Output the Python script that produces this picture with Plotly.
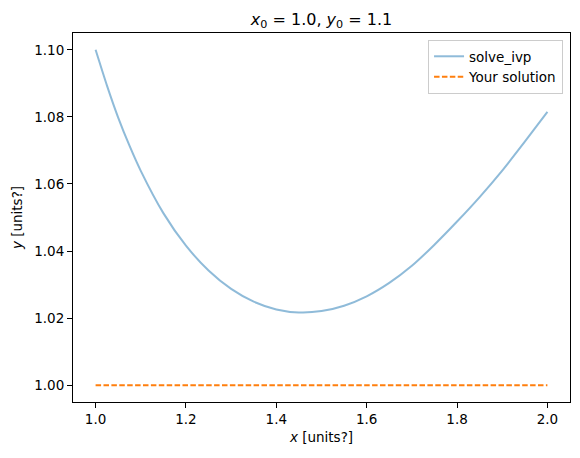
import plotly.graph_objects as go

# solve_ivp curve
x_ivp = [1.00, 1.025, 1.05, 1.075, 1.10, 1.15, 1.20, 1.25, 1.30, 1.35, 1.40, 1.45, 1.50,
         1.55, 1.60, 1.65, 1.70, 1.75, 1.80, 1.85, 1.90, 1.95, 2.00]
y_ivp = [1.1000, 1.0894, 1.0798, 1.0714, 1.0639, 1.0513, 1.0416, 1.0342, 1.0287, 1.0249, 1.0226, 1.0217, 1.0221,
         1.0237, 1.0265, 1.0305, 1.0356, 1.0419, 1.0488, 1.0561, 1.0640, 1.0726, 1.0815]

# "Your solution" line
x_yours = [1.0, 2.0]
y_yours = [1.0, 1.0]

x_ticks = [1.0, 1.2, 1.4, 1.6, 1.8, 2.0]
y_ticks = [1.00, 1.02, 1.04, 1.06, 1.08, 1.10]

FONT = "DejaVu Sans"

fig = go.Figure()
fig.add_trace(go.Scatter(x=x_ivp, y=y_ivp, mode="lines", name="solve_ivp",
                         line=dict(color="rgba(31,119,180,0.5)", width=2,
                                   shape="spline", smoothing=0.6)))
fig.add_trace(go.Scatter(x=x_yours, y=y_yours, mode="lines", name="Your solution",
                         line=dict(color="#ff7f0e", width=2, dash="5.5px,2.4px")))

axis_common = dict(showgrid=False, zeroline=False, showline=True, linecolor="black",
                   linewidth=1, mirror=True, ticks="outside", ticklen=5, tickwidth=1,
                   tickcolor="black", tickfont=dict(family=FONT, size=13.5, color="black"))

fig.update_layout(
    width=580, height=458,
    margin=dict(l=73, r=10, t=33, b=56),
    paper_bgcolor="white", plot_bgcolor="white",
    title=dict(text="<i>x</i><sub>0</sub> = 1.0, <i>y</i><sub>0</sub> = 1.1",
               x=(73 + 570) / 2 / 580, xanchor="center", y=1 - 19 / 458, yanchor="middle",
               font=dict(family=FONT, size=16, color="black")),
    xaxis=dict(range=[0.95, 2.05], tickvals=x_ticks, tickformat=".1f",
               title=dict(text="<i>x</i> [units?]", font=dict(family=FONT, size=13.5, color="black"),
                          standoff=6),
               **axis_common),
    yaxis=dict(range=[0.995, 1.105], tickvals=y_ticks, tickformat=".2f",
               title=dict(text="<i>y</i> [units?]", font=dict(family=FONT, size=13.5, color="black"),
                          standoff=8),
               **axis_common),
    legend=dict(x=0.986, y=0.981, xanchor="right", yanchor="top",
                bgcolor="rgba(255,255,255,0.8)", bordercolor="#cccccc", borderwidth=1,
                font=dict(family=FONT, size=13.5, color="black"),
                itemwidth=30, tracegroupgap=0),
    showlegend=True,
)

fig.write_html("out.html")
